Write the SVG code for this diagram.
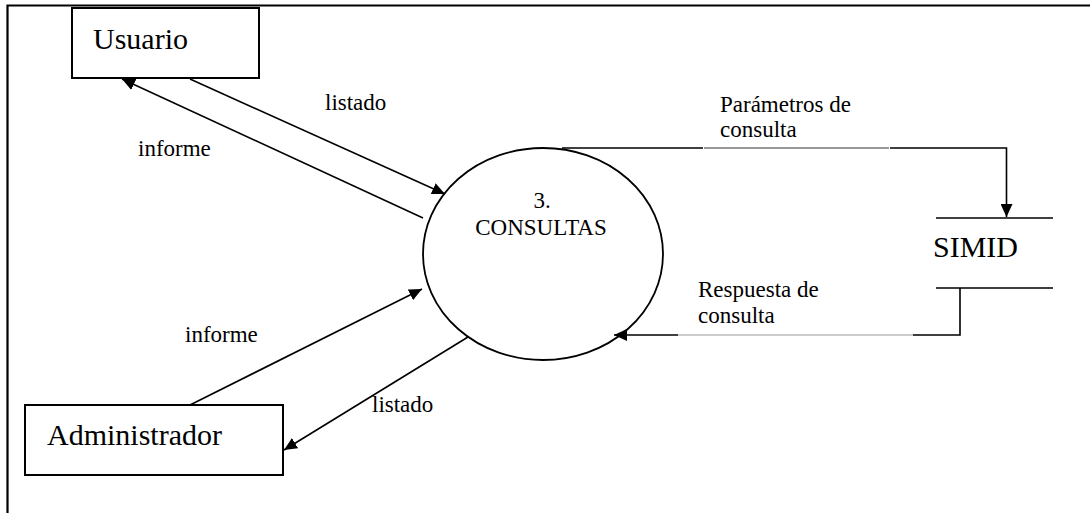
<svg xmlns="http://www.w3.org/2000/svg" width="1090" height="513" viewBox="0 0 1090 513">
<style>
  .box { fill: #fff; stroke: #000; stroke-width: 2; }
  .ln { fill: none; stroke: #000; stroke-width: 1.6; }
  .lt { fill: none; stroke: #999; stroke-width: 1; }
  .lm { fill: none; stroke: #333; stroke-width: 1.2; }
  .big { font-family: "Liberation Serif", "Times New Roman", serif; font-size: 30px; fill: #000; }
  .lbl { font-family: "Liberation Serif", "Times New Roman", serif; font-size: 23px; fill: #000; }
</style>
<defs>
  <marker id="arr" markerWidth="14" markerHeight="12" refX="13" refY="6" orient="auto" markerUnits="userSpaceOnUse">
    <path d="M0,0 L13,6 L0,12 z" fill="#000"/>
  </marker>
</defs>
<rect x="0" y="0" width="1090" height="513" fill="#fff"/>
<g id="frame">
  <path d="M7.5,513 L7.5,5.5 L1090,5.5" fill="none" stroke="#000" stroke-width="2.2"/>
</g>
<g id="connectors">
  <line class="ln" x1="423" y1="218" x2="122" y2="79" marker-end="url(#arr)"/>
  <line class="ln" x1="190" y1="79" x2="445" y2="194" marker-end="url(#arr)"/>
  <line class="ln" x1="190" y1="405" x2="422" y2="289" marker-end="url(#arr)"/>
  <line class="ln" x1="468" y1="337" x2="284" y2="450" marker-end="url(#arr)"/>
  <path class="ln" d="M562,148 L703,148"/>
  <path class="lm" d="M704,148 L889,148"/>
  <path class="ln" d="M890,148 L1006.5,148 L1006.5,217" marker-end="url(#arr)"/>
  <path class="ln" d="M936,288 L1053,288 M960,288 L960,335 L913,335"/>
  <path class="lt" d="M913,335 L678,335"/>
  <path class="ln" d="M678,335 L614,335" marker-end="url(#arr)"/>
  <text class="lbl" x="325" y="110">listado</text>
  <text class="lbl" x="138" y="156">informe</text>
  <text class="lbl" x="185" y="342">informe</text>
  <text class="lbl" x="372" y="412">listado</text>
  <text class="lbl" x="720" y="112">Parámetros de</text>
  <text class="lbl" x="720" y="137">consulta</text>
  <text class="lbl" x="698" y="297">Respuesta de</text>
  <text class="lbl" x="698" y="323">consulta</text>
</g>
<g id="usuario">
  <rect class="box" x="72" y="8" width="187" height="70"/>
  <text class="big" x="93" y="49">Usuario</text>
</g>
<g id="administrador">
  <rect class="box" x="25" y="405" width="258" height="70"/>
  <text class="big" x="47" y="445">Administrador</text>
</g>
<g id="consultas">
  <ellipse cx="543" cy="254" rx="120" ry="106" fill="none" stroke="#000" stroke-width="1.8"/>
  <text class="lbl" x="542" y="208" text-anchor="middle">3.</text>
  <text class="lbl" x="541" y="235" text-anchor="middle">CONSULTAS</text>
</g>
<g id="simid">
  <line class="ln" x1="936" y1="218" x2="1053" y2="218"/>
  <text class="big" x="933" y="257">SIMID</text>
</g>
</svg>
